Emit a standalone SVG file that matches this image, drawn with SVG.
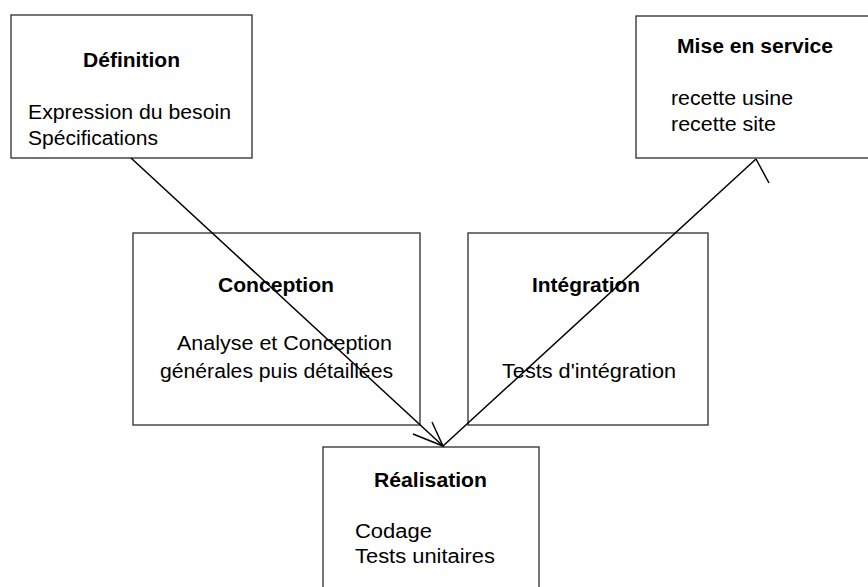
<svg xmlns="http://www.w3.org/2000/svg" width="868" height="587" viewBox="0 0 868 587">
<style>
.box{fill:#fff;stroke:#3a3a3a;stroke-width:1.4}
.t{font-family:"Liberation Sans",Arial,sans-serif;font-size:20px;fill:#000}
.h{font-weight:bold}
.c{stroke:#000;stroke-width:1.5;fill:none}
</style>
<rect width="868" height="587" fill="#fff"/>
<g id="definition">
<rect class="box" x="11" y="15" width="241" height="143"/>
<text class="t h" x="83" y="67" textLength="97" lengthAdjust="spacingAndGlyphs">Définition</text>
<text class="t" x="28" y="119" textLength="203" lengthAdjust="spacingAndGlyphs">Expression du besoin</text>
<text class="t" x="28" y="145" textLength="130" lengthAdjust="spacingAndGlyphs">Spécifications</text>
</g>
<g id="mise-en-service">
<rect class="box" x="636" y="16" width="250" height="142"/>
<text class="t h" x="677" y="53" textLength="156" lengthAdjust="spacingAndGlyphs">Mise en service</text>
<text class="t" x="671" y="105" textLength="122" lengthAdjust="spacingAndGlyphs">recette usine</text>
<text class="t" x="671" y="131" textLength="105" lengthAdjust="spacingAndGlyphs">recette site</text>
</g>
<g id="conception">
<rect class="box" x="133" y="233" width="287" height="192"/>
<text class="t h" x="218" y="292" textLength="116" lengthAdjust="spacingAndGlyphs">Conception</text>
<text class="t" x="177" y="350" textLength="215" lengthAdjust="spacingAndGlyphs">Analyse et Conception</text>
<text class="t" x="160" y="378" textLength="233" lengthAdjust="spacingAndGlyphs">générales puis détaillées</text>
</g>
<g id="integration">
<rect class="box" x="468" y="233" width="240" height="192"/>
<text class="t h" x="532" y="292" textLength="108" lengthAdjust="spacingAndGlyphs">Intégration</text>
<text class="t" x="502" y="378" textLength="174" lengthAdjust="spacingAndGlyphs">Tests d'intégration</text>
</g>
<g id="realisation">
<rect class="box" x="323" y="447" width="216" height="160"/>
<text class="t h" x="374" y="487" textLength="113" lengthAdjust="spacingAndGlyphs">Réalisation</text>
<text class="t" x="355" y="538" textLength="77" lengthAdjust="spacingAndGlyphs">Codage</text>
<text class="t" x="355" y="563" textLength="140" lengthAdjust="spacingAndGlyphs">Tests unitaires</text>
</g>
<g id="connectors">
<line class="c" x1="131" y1="158" x2="443" y2="446"/>
<polyline class="c" points="413,434 443,446 432,422"/>
<line class="c" x1="443" y1="446" x2="756" y2="159"/>
<line class="c" x1="756" y1="159" x2="769" y2="183"/>
</g>
</svg>
